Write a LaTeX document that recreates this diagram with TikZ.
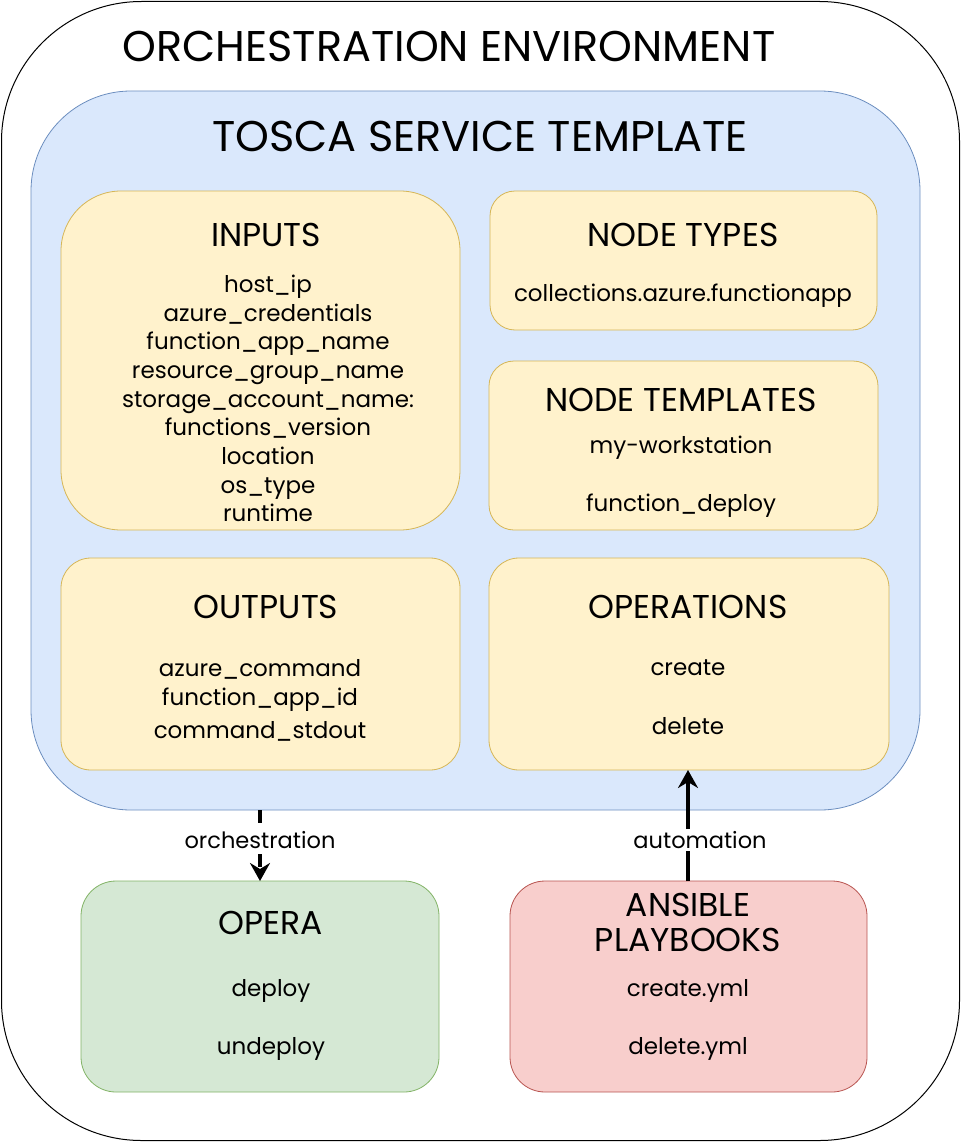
\documentclass[tikz,border=0pt]{standalone}
\usepackage{fontspec}
\setmainfont{Poppins}
\usetikzlibrary{arrows.meta}
\definecolor{bluefill}{HTML}{DAE8FC}
\definecolor{bluestroke}{HTML}{6C8EBF}
\definecolor{yelfill}{HTML}{FFF2CC}
\definecolor{yelstroke}{HTML}{D6B656}
\definecolor{grnfill}{HTML}{D5E8D4}
\definecolor{grnstroke}{HTML}{82B366}
\definecolor{redfill}{HTML}{F8CECC}
\definecolor{redstroke}{HTML}{B85450}
\tikzset{
  boxbase/.style={rectangle, inner sep=0pt, outer sep=0pt, line width=0.8pt},
  yelbox/.style={boxbase, fill=yelfill, draw=yelstroke},
  bigtitle/.style={font=\fontsize{43}{46}\selectfont, inner sep=0pt},
  boxtitle/.style={font=\fontsize{33}{35}\selectfont, inner sep=0pt},
  item/.style={font=\fontsize{23}{28.7}\selectfont, inner sep=0pt, align=center},
  single/.style={item, yshift=-3pt},
  lbl/.style={font=\fontsize{22.5}{26}\selectfont, fill=white, inner sep=2pt},
  bigarrow/.style={line width=4pt, -{Stealth[length=18pt,width=20pt,inset=6pt]}}
}
\begin{document}
\begin{tikzpicture}[x=1pt,y=-1pt]
\useasboundingbox (0,0) rectangle (961,1142);
% outer
\node[boxbase, draw=black, line width=1pt, rounded corners=140pt, minimum width=958pt, minimum height=1139pt] (env) at (480.5,571) {};
\node[bigtitle] (envt) at (449,46) {ORCHESTRATION ENVIRONMENT};
% blue
\node[boxbase, fill=bluefill, draw=bluestroke, rounded corners=100pt, minimum width=889pt, minimum height=719pt] (tosca) at (475.5,450.5) {};
\node[bigtitle] (toscat) at (480,136) {TOSCA SERVICE TEMPLATE};
% inputs
\node[yelbox, rounded corners=60pt, minimum width=399pt, minimum height=339pt] (inputs) at (260.5,360.5) {};
\node[boxtitle] at (266,235) {INPUTS};
\node[item] at (268,398.5) {host\_ip\\azure\_credentials\\function\_app\_name\\resource\_group\_name\\storage\_account\_name:\\functions\_version\\location\\os\_type\\runtime};
% node types
\node[yelbox, rounded corners=25pt, minimum width=387pt, minimum height=139pt] (ntypes) at (683.5,260.5) {};
\node[boxtitle] at (683,235) {NODE TYPES};
\node[single] at (683,293) {collections.azure.functionapp};
% node templates
\node[yelbox, rounded corners=25pt, minimum width=389pt, minimum height=169pt] (ntempl) at (683.5,445.5) {};
\node[boxtitle] at (681,400) {NODE TEMPLATES};
\node[single] at (681,445) {my-workstation};
\node[single] at (681,503) {function\_deploy};
% outputs
\node[yelbox, rounded corners=30pt, minimum width=399pt, minimum height=212pt] (outputs) at (260.5,664) {};
\node[boxtitle] at (266,607) {OUTPUTS};
\node[single] at (260,666) {azure\_command};
\node[single] at (260,697) {function\_app\_id};
\node[single] at (260,728) {command\_stdout};
% operations
\node[yelbox, rounded corners=30pt, minimum width=400pt, minimum height=212pt] (ops) at (689,664) {};
\node[boxtitle] at (688,607) {OPERATIONS};
\node[single] at (688,665) {create};
\node[single] at (688,723) {delete};
% opera
\node[boxbase, fill=grnfill, draw=grnstroke, rounded corners=35pt, minimum width=358pt, minimum height=211pt] (opera) at (260,986.5) {};
\node[boxtitle] at (271,923) {OPERA};
\node[single] at (271,988) {deploy};
\node[single] at (271,1046) {undeploy};
% ansible
\node[boxbase, fill=redfill, draw=redstroke, rounded corners=35pt, minimum width=357pt, minimum height=211pt] (ansible) at (688.5,986.5) {};
\node[boxtitle] at (688,905) {ANSIBLE};
\node[boxtitle] at (688,940) {PLAYBOOKS};
\node[single] at (688,988) {create.yml};
\node[single] at (688,1046) {delete.yml};
% arrows
\coordinate (orchA) at (260,810);
\coordinate (orchB) at (260,881);
\draw[bigarrow, dash pattern=on 13pt off 9pt] (orchA) -- (orchB);
\node[lbl] (orchl) at (260,840) {orchestration};
\coordinate (autA) at (688,881);
\coordinate (autB) at (688,770);
\draw[bigarrow] (autA) -- (autB);
\node[lbl] (autl) at (700,840) {automation};
\end{tikzpicture}
\end{document}
